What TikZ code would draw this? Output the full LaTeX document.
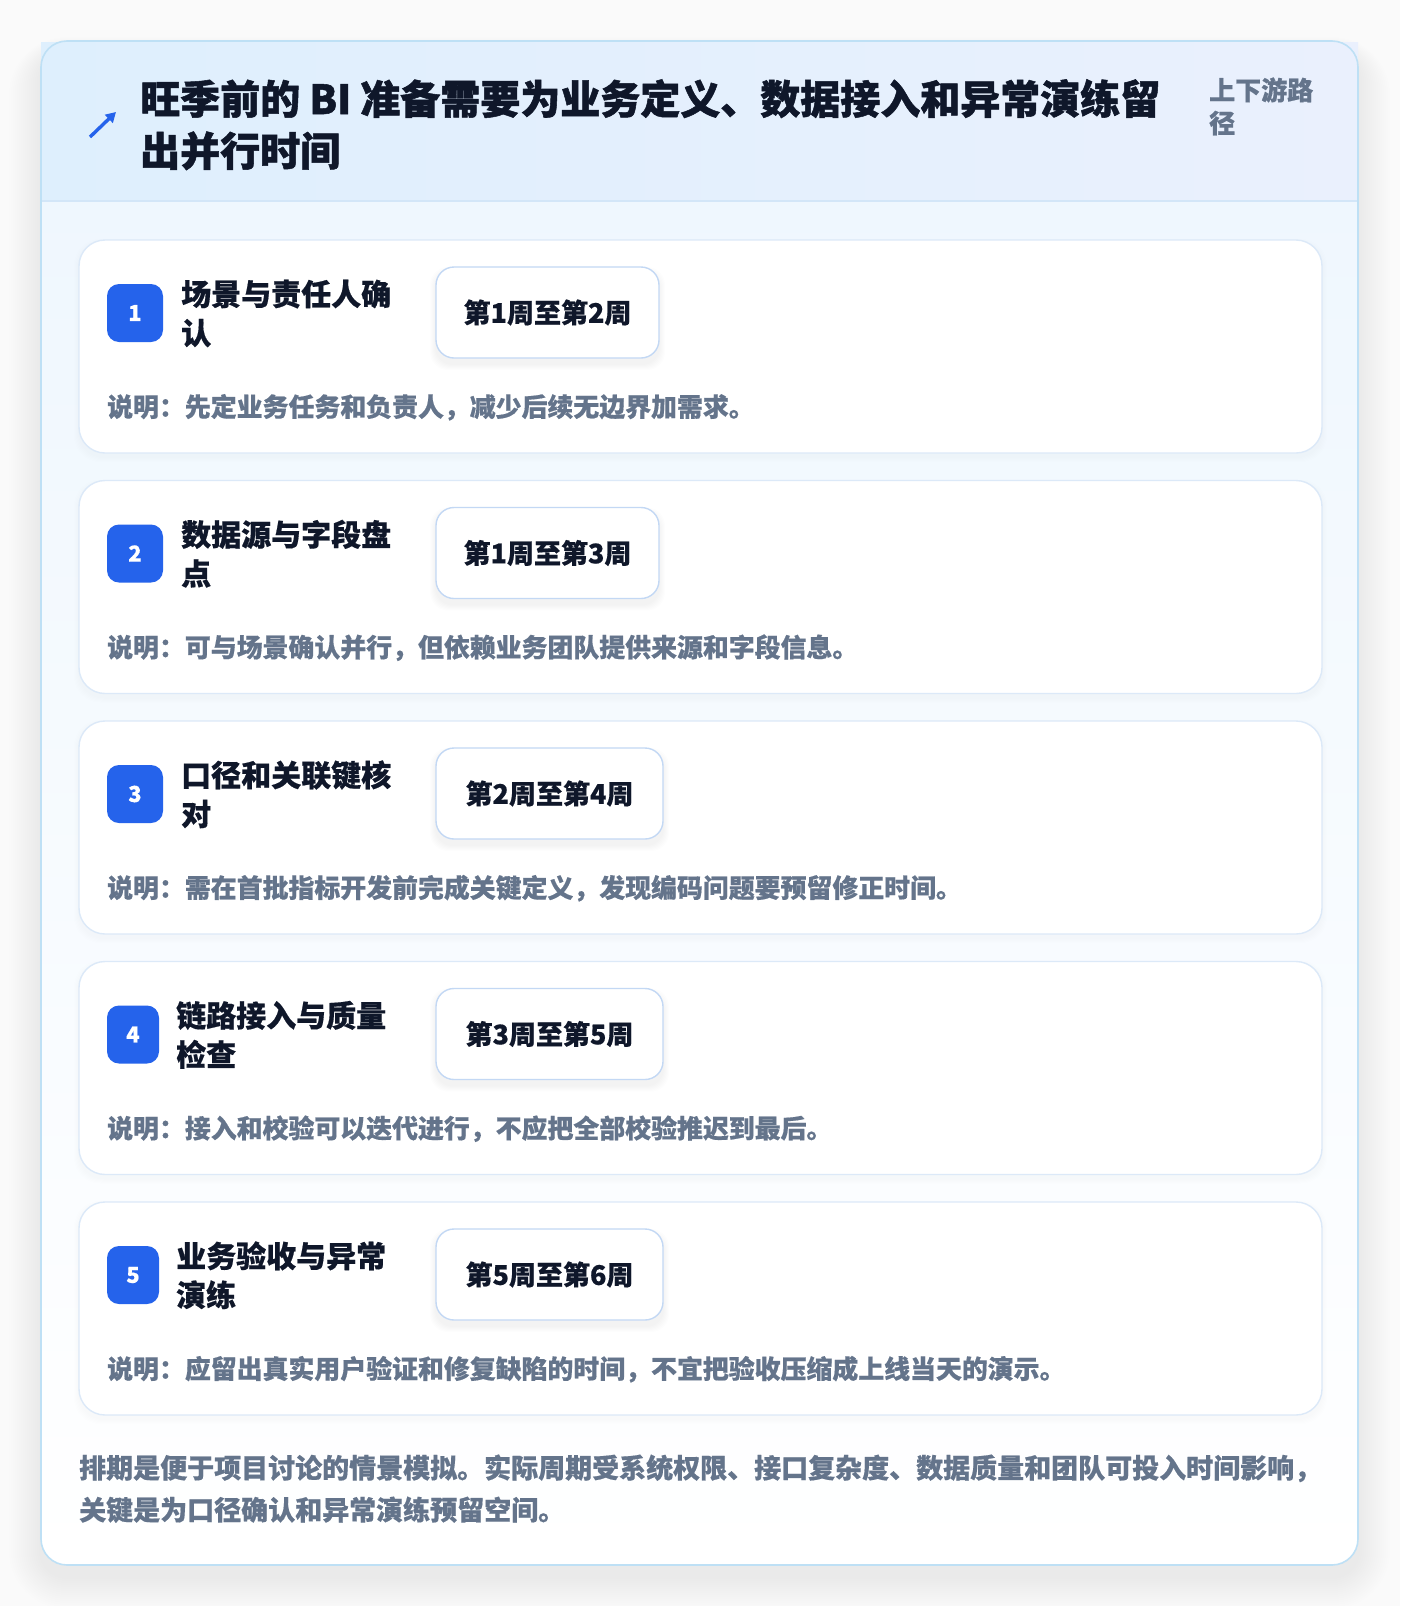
\documentclass[tikz,border=0pt]{standalone}
\usepackage{fontspec}
\setmainfont{Noto Sans CJK SC}[BoldFeatures={FakeBold=0.5}]
\newfontfamily\headfont{Noto Sans CJK SC}[BoldFeatures={FakeBold=1.3}]
\usetikzlibrary{arrows.meta}
\definecolor{pagebg}{HTML}{FAFAFA}
\definecolor{titleC}{HTML}{0F172A}
\definecolor{grayC}{HTML}{64748B}
\definecolor{blueC}{HTML}{2563EB}
\definecolor{cardBorder}{HTML}{DCE9F8}
\definecolor{pillBorder}{HTML}{C3D8F4}
\definecolor{headL}{HTML}{DEEFFD}
\definecolor{headR}{HTML}{EAF0FD}
\definecolor{hline}{HTML}{D3E6F8}
\definecolor{outerBorder}{HTML}{BEE0F5}
\definecolor{bodyTop}{HTML}{EFF7FE}
\tikzset{
  titletext/.style={anchor=base west, inner sep=0, text=titleC, font=\headfont\bfseries\fontsize{40}{46}\selectfont},
  sidetext/.style={anchor=base west, inner sep=0, text=grayC, font=\bfseries\fontsize{26}{32}\selectfont},
  cardbox/.style={draw=cardBorder, line width=1.4pt, fill=white, rounded corners=26pt},
  badgebox/.style={fill=blueC, rounded corners=12pt},
  badgenum/.style={inner sep=0, text=white, font=\bfseries\fontsize{22}{26}\selectfont},
  cardtitle/.style={anchor=base west, inner sep=0, text=titleC, font=\bfseries\fontsize{30}{36}\selectfont},
  pillbox/.style={draw=pillBorder, line width=1.4pt, fill=white, rounded corners=18pt},
  pilltext/.style={inner sep=0, text=titleC, font=\bfseries\fontsize{27}{32}\selectfont},
  desctext/.style={anchor=base west, inner sep=0, text=grayC, font=\bfseries\fontsize{25.9}{30}\selectfont},
  foottext/.style={anchor=base west, inner sep=0, text=grayC, font=\bfseries\fontsize{27}{32}\selectfont},
}
\begin{document}
\begin{tikzpicture}[x=1pt,y=-1pt]
\fill[pagebg] (0,0) rectangle (1400,1606);
\useasboundingbox (0,0) rectangle (1400,1606);
% outer shadow
\foreach \i in {1,...,16}{
  \pgfmathsetmacro{\rr}{26+2*\i}
  \fill[black,opacity=0.005,rounded corners=\rr pt] (41-2*\i,41-\i+12) rectangle (1358+2*\i,1565+2*\i+12);
}
% outer card body
\begin{scope}
\clip[rounded corners=26pt] (41,41) rectangle (1358,1565);
\shade[top color=bodyTop, bottom color=white] (41,190) rectangle (1358,1565);
\end{scope}
\shade[left color=headL, right color=headR] (41,42) rectangle (1358,201);
\draw[hline, line width=1.4pt] (41,201) -- (1358,201);
\draw[outerBorder, line width=1.6pt, rounded corners=26pt] (41,41) rectangle (1358,1565);
% header icon and texts
\coordinate (arrS) at (90,137);
\coordinate (arrE) at (116,112);
\draw[blueC, line width=3.4pt, -{Triangle[length=10pt,width=11pt]}] (arrS) -- (arrE);
\node[titletext] (title1) at (140,114) {旺季前的 BI 准备需要为业务定义、数据接入和异常演练留};
\node[titletext] (title2) at (140,166) {出并行时间};
\node[sidetext] (side1) at (1209,100) {上下游路};
\node[sidetext] (side2) at (1209,133) {径};
% cards
\foreach \T/\n/\tA/\tB/\tx/\bw/\pill/\pr/\desc in {
 240/1/场景与责任人确/认/181/56/第1周至第2周/659/说明：先定业务任务和负责人，减少后续无边界加需求。,
 480.5/2/数据源与字段盘/点/181/56/第1周至第3周/659/说明：可与场景确认并行，但依赖业务团队提供来源和字段信息。,
 721/3/口径和关联键核/对/181/56/第2周至第4周/663/说明：需在首批指标开发前完成关键定义，发现编码问题要预留修正时间。,
 961.5/4/链路接入与质量/检查/176/52/第3周至第5周/663/说明：接入和校验可以迭代进行，不应把全部校验推迟到最后。,
 1202/5/业务验收与异常/演练/176/52/第5周至第6周/663/说明：应留出真实用户验证和修复缺陷的时间，不宜把验收压缩成上线当天的演示。}{
  \foreach \k in {1,...,5}{
    \fill[black!60!blue,opacity=0.004] (79-\k,\T-\k+4) [rounded corners=26pt] rectangle (1322+\k,\T+213+\k+4);
  }
  \draw[cardbox] (79,\T) rectangle (1322,\T+213);
  \coordinate (card\n) at (79,\T);
  \fill[badgebox] (107,\T+44) rectangle (107+\bw,\T+102);
  \node[badgenum] (badge\n) at (107+\bw/2,\T+73) {\n};
  \node[cardtitle] (ct\n a) at (\tx,\T+65.4) {\tA};
  \node[cardtitle] (ct\n b) at (\tx,\T+104.4) {\tB};
  \foreach \k in {1,...,6}{
    \fill[black,opacity=0.006,rounded corners=18pt] (436-\k,\T+27-\k+6) rectangle (\pr+\k,\T+118+\k+6);
  }
  \draw[pillbox] (436,\T+27) rectangle (\pr,\T+118);
  \node[pilltext] (pill\n) at ({(436+\pr)/2},\T+72.5) {\pill};
  \node[desctext] (desc\n) at (107,\T+176.5) {\desc};
}
% footer
\node[foottext] (foot1) at (79,1478) {排期是便于项目讨论的情景模拟。实际周期受系统权限、接口复杂度、数据质量和团队可投入时间影响，};
\node[foottext] (foot2) at (79,1520) {关键是为口径确认和异常演练预留空间。};
\end{tikzpicture}
\end{document}
